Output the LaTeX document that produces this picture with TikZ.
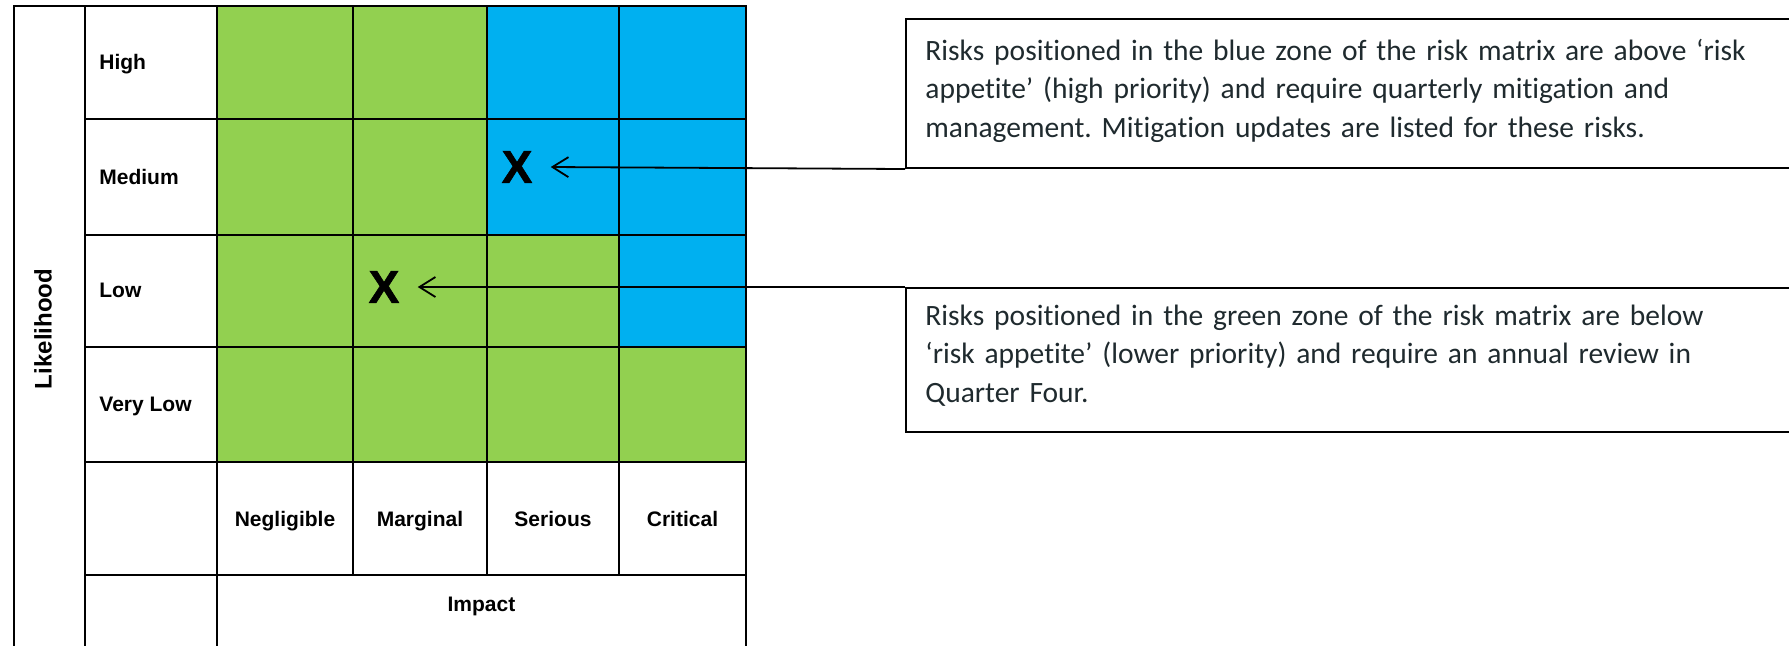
\documentclass[tikz,border=0pt]{standalone}
\usepackage{fontspec}
\setmainfont{Liberation Sans}
\newfontfamily\calfont[Ligatures=NoCommon]{Carlito}
\newfontfamily\xfont[BoldFeatures={FakeBold=1.3}]{Liberation Sans}
\usetikzlibrary{arrows.meta}
\definecolor{rgreen}{HTML}{92D050}
\definecolor{rblue}{HTML}{00B0F0}
\definecolor{boxtext}{HTML}{1F2A2E}
\frenchspacing
\tikzset{
 gridline/.style={line width=1.1pt, black},
 lbl/.style={font=\fontsize{10.5}{12}\selectfont\bfseries, inner sep=0pt, anchor=base},
 rowlbl/.style={lbl, anchor=base west},
 xmark/.style={font=\xfont\fontsize{23}{23}\selectfont\bfseries, inner xsep=9pt, inner ysep=0pt},
 descbox/.style={draw, line width=1pt, anchor=north west, minimum width=450pt, inner sep=0pt},
 desctext/.style={anchor=base west, align=left, text width=425pt, inner sep=0pt, font=\calfont\fontsize{14.75}{19.25}\selectfont, text=boxtext},
 pointer/.style={line width=0.9pt, -{Straight Barb[length=8pt,width=10pt]}},
}
\begin{document}
\begin{tikzpicture}[x=0.5pt,y=-0.5pt]
\useasboundingbox (0,0) rectangle (1789,645);
\clip (0,0) rectangle (1789,645);
% coloured cells
\fill[rgreen] (217,6) rectangle (746,462);
\fill[rblue] (487,6) rectangle (746,235);
\fill[rblue] (619,235) rectangle (746,347);
% grid
\draw[gridline] (14,660) -- (14,6) -- (746,6) -- (746,660);
\draw[gridline] (85,6) -- (85,660);
\draw[gridline] (217,6) -- (217,660);
\foreach \c in {353,487,619} \draw[gridline] (\c,6) -- (\c,575);
\foreach \r in {119,235,347,462,575} \draw[gridline] (85,\r) -- (746,\r);
% labels
\node[font=\fontsize{12}{14}\selectfont\bfseries, inner sep=0pt, rotate=90] (lik) at (43,329) {Likelihood};
\node[rowlbl] (high) at (99,69) {High};
\node[rowlbl] (med) at (99,184) {Medium};
\node[rowlbl] (low) at (99,297) {Low};
\node[rowlbl] (vlow) at (99,411) {Very Low};
\node[lbl] (negl) at (285,526) {Negligible};
\node[lbl] (marg) at (420,526) {Marginal};
\node[lbl] (seri) at (553,526) {Serious};
\node[lbl] (crit) at (682.5,526) {Critical};
\node[lbl] (impact) at (481.5,611) {Impact};
% risk marks
\node[xmark] (x1) at (517,167) {X};
\node[xmark] (x2) at (384,287) {X};
% description boxes
\node[descbox, minimum height=74.5pt] (box1) at (905,18) {};
\node[desctext] (t1) at (925,60) {Risks positioned in the blue zone of the risk matrix are above ‘risk\\appetite’ (high priority) and require quarterly mitigation and\\management. Mitigation updates are listed for these risks.};
\node[descbox, minimum height=72pt] (box2) at (905,287) {};
\node[desctext] (t2) at (925,325) {Risks positioned in the green zone of the risk matrix are below\\‘risk appetite’ (lower priority) and require an annual review in\\Quarter Four.};
% connectors
\draw[pointer] (box1.south west) -- (x1.east);
\draw[pointer] (box2.north west) -- (x2.east);
\end{tikzpicture}
\end{document}
